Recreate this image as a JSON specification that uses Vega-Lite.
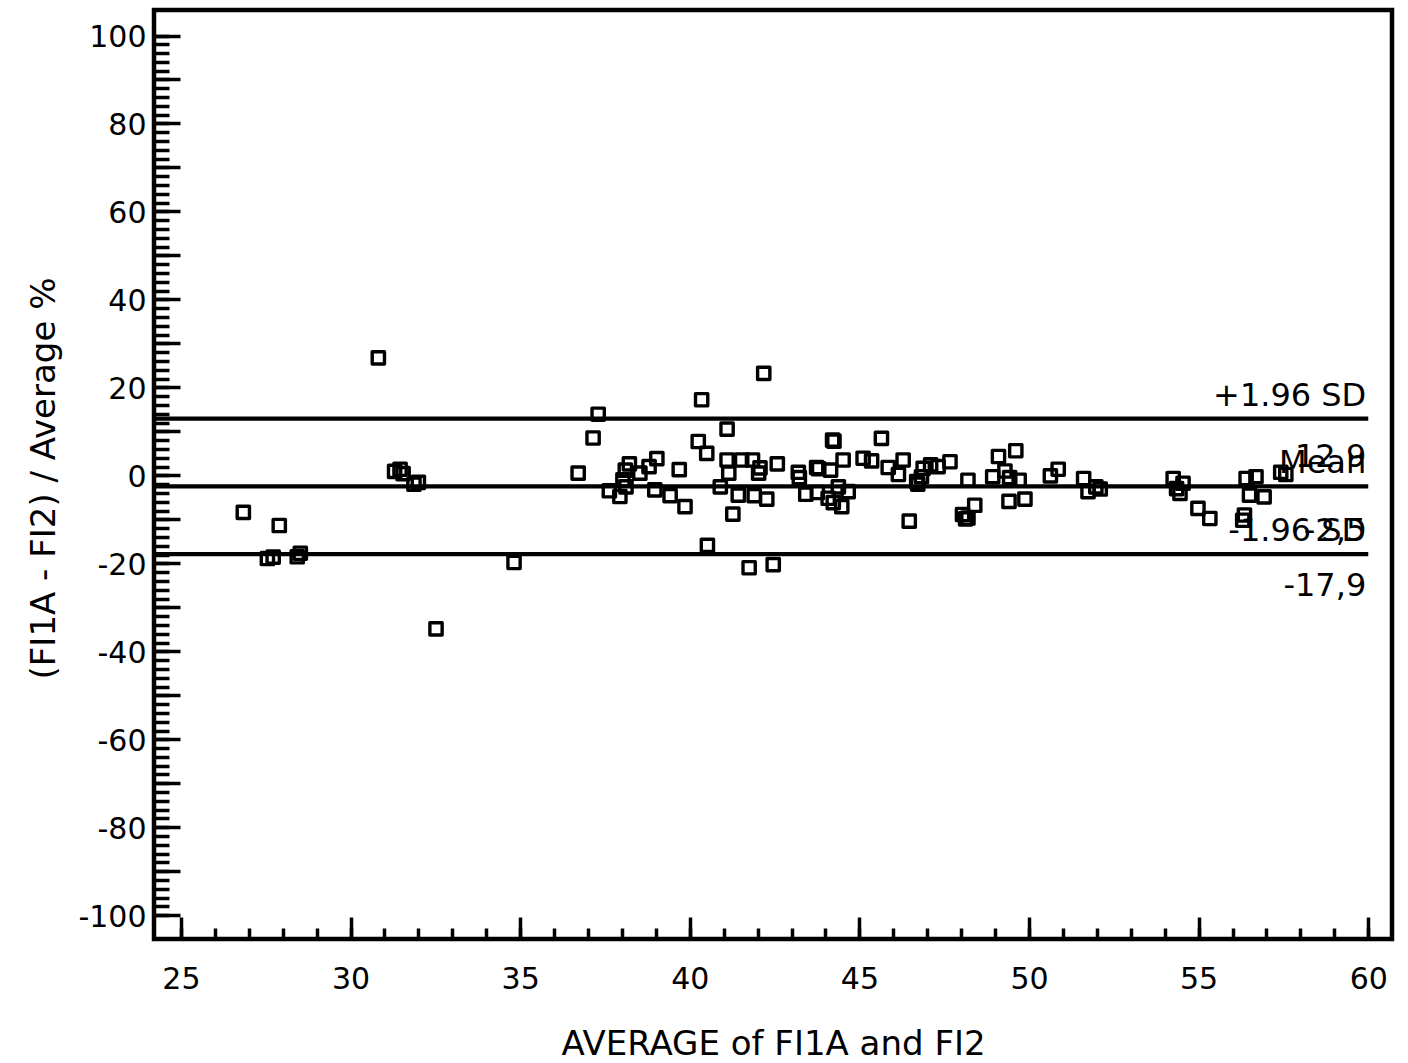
{
  "$schema": "https://vega.github.io/schema/vega-lite/v6.json",
  "width": 1238,
  "height": 929,
  "autosize": {"type": "none"},
  "padding": {"left": 154, "top": 10, "right": 16, "bottom": 124},
  "background": "white",
  "config": {
    "view": {"stroke": "black", "strokeWidth": 4.5},
    "font": "DejaVu Sans",
    "axis": {"grid": false, "domain": false, "labelColor": "black", "titleColor": "black", "tickColor": "black", "labelFont": "DejaVu Sans", "titleFont": "DejaVu Sans", "titleFontWeight": "normal", "labelFlush": false, "labelOverlap": false}
  },
  "datasets": {
    "points": [
      {"avg":26.84,"diff":-8.4},{"avg":27.9,"diff":-11.4},{"avg":27.55,"diff":-18.9},{"avg":27.72,"diff":-18.6},{"avg":28.43,"diff":-18.5},{"avg":28.52,"diff":-17.7},
      {"avg":30.82,"diff":26.7},{"avg":31.3,"diff":0.9},{"avg":31.46,"diff":1.4},{"avg":31.55,"diff":0.4},{"avg":31.87,"diff":-2.0},{"avg":32.0,"diff":-1.6},
      {"avg":32.52,"diff":-34.9},{"avg":34.82,"diff":-19.8},{"avg":36.71,"diff":0.5},{"avg":37.15,"diff":8.5},{"avg":37.3,"diff":13.9},{"avg":37.63,"diff":-3.5},
      {"avg":37.94,"diff":-4.8},{"avg":38.03,"diff":-1.0},{"avg":38.1,"diff":1.2},{"avg":38.22,"diff":2.6},{"avg":38.12,"diff":-2.6},{"avg":38.53,"diff":0.5},
      {"avg":38.8,"diff":2.0},{"avg":39.03,"diff":3.8},{"avg":38.97,"diff":-3.3},{"avg":39.42,"diff":-4.6},{"avg":39.86,"diff":-7.1},{"avg":39.69,"diff":1.3},
      {"avg":40.25,"diff":7.7},{"avg":40.35,"diff":17.2},{"avg":40.5,"diff":5.0},{"avg":40.52,"diff":-15.9},{"avg":41.1,"diff":10.5},{"avg":41.1,"diff":3.5},
      {"avg":41.15,"diff":0.5},{"avg":40.9,"diff":-2.6},{"avg":41.43,"diff":-4.5},{"avg":41.27,"diff":-8.8},{"avg":41.53,"diff":3.5},{"avg":41.85,"diff":3.5},
      {"avg":42.07,"diff":1.7},{"avg":42.03,"diff":0.5},{"avg":41.9,"diff":-4.6},{"avg":42.27,"diff":-5.4},{"avg":42.18,"diff":23.2},{"avg":41.75,"diff":-21.0},
      {"avg":42.46,"diff":-20.3},{"avg":42.58,"diff":2.6},{"avg":43.2,"diff":0.7},{"avg":43.23,"diff":-0.5},{"avg":43.74,"diff":1.8},{"avg":43.8,"diff":1.5},
      {"avg":44.15,"diff":1.2},{"avg":44.52,"diff":3.5},{"avg":43.42,"diff":-4.3},{"avg":43.76,"diff":-3.9},{"avg":44.08,"diff":-5.2},{"avg":44.23,"diff":-6.2},
      {"avg":44.48,"diff":-7.1},{"avg":44.67,"diff":-3.7},{"avg":44.38,"diff":-2.6},{"avg":44.21,"diff":8.0},{"avg":44.25,"diff":7.8},{"avg":45.65,"diff":8.4},
      {"avg":45.11,"diff":3.9},{"avg":45.36,"diff":3.3},{"avg":45.85,"diff":1.8},{"avg":46.29,"diff":3.5},{"avg":46.15,"diff":0.2},{"avg":46.69,"diff":-1.4},
      {"avg":46.72,"diff":-2.0},{"avg":46.83,"diff":-0.3},{"avg":46.88,"diff":1.6},{"avg":47.1,"diff":2.4},{"avg":47.32,"diff":2.0},{"avg":47.67,"diff":3.1},
      {"avg":46.47,"diff":-10.4},{"avg":48.04,"diff":-8.9},{"avg":48.13,"diff":-9.9},{"avg":48.2,"diff":-9.7},{"avg":48.4,"diff":-6.8},{"avg":48.2,"diff":-1.1},
      {"avg":48.93,"diff":-0.3},{"avg":49.1,"diff":4.3},{"avg":49.61,"diff":5.6},{"avg":49.29,"diff":1.0},{"avg":49.43,"diff":-0.5},{"avg":49.71,"diff":-1.1},
      {"avg":49.41,"diff":-5.9},{"avg":49.88,"diff":-5.4},{"avg":50.63,"diff":-0.1},{"avg":50.86,"diff":1.4},{"avg":51.61,"diff":-0.7},{"avg":51.74,"diff":-3.7},
      {"avg":51.97,"diff":-2.6},{"avg":52.1,"diff":-3.1},{"avg":54.25,"diff":-0.7},{"avg":54.35,"diff":-3.0},{"avg":54.45,"diff":-4.1},{"avg":54.54,"diff":-1.8},
      {"avg":54.98,"diff":-7.5},{"avg":55.33,"diff":-9.8},{"avg":56.3,"diff":-10.2},{"avg":56.35,"diff":-9.0},{"avg":56.4,"diff":-0.7},{"avg":56.69,"diff":-0.3},
      {"avg":56.5,"diff":-4.5},{"avg":56.93,"diff":-4.9},{"avg":57.42,"diff":0.7},{"avg":57.57,"diff":0.2}
    ],
    "lines": [
      {"key": "up", "value": 12.9, "name": "+1.96 SD", "num": "12,9"},
      {"key": "mean", "value": -2.5, "name": "Mean", "num": "-2,5"},
      {"key": "low", "value": -17.9, "name": "-1.96 SD", "num": "-17,9"}
    ]
  },
  "resolve": {"axis": {"x": "independent", "y": "independent"}},
  "layer": [
    {
      "data": {"name": "points"},
      "mark": {"type": "point", "shape": "square", "filled": false, "size": 150, "stroke": "black", "strokeWidth": 3.4, "strokeJoin": "round", "opacity": 1},
      "encoding": {
        "x": {"field": "avg", "type": "quantitative", "scale": {"domain": [24.207, 60.7], "nice": false, "zero": false},
          "axis": {"orient": "bottom", "values": [25, 30, 35, 40, 45, 50, 55, 60], "ticks": false, "labelPadding": 25, "labelFontSize": 30,
            "title": "AVERAGE of FI1A and FI2", "titleFontSize": 34, "titleY": 115, "titleBaseline": "alphabetic"}},
        "y": {"field": "diff", "type": "quantitative", "scale": {"domain": [-105.4, 105.8], "nice": false, "zero": false},
          "axis": {"orient": "left", "values": [-100, -80, -60, -40, -20, 0, 20, 40, 60, 80, 100], "ticks": false, "labelPadding": 8, "labelFontSize": 30, "labelOffset": 2,
            "labelExpr": "replace(datum.label, '\u2212', '-')",
            "title": "(FI1A - FI2) / Average %", "titleFontSize": 34, "titleAngle": 270, "titleX": -100, "titleY": 468, "titleAlign": "center", "titleBaseline": "alphabetic"}}
      }
    },
    {
      "data": {"name": "lines"},
      "mark": {"type": "rule", "color": "black", "strokeWidth": 4.2},
      "encoding": {
        "x": {"datum": 24.207, "type": "quantitative",
          "axis": {"orient": "bottom", "values": [25, 30, 35, 40, 45, 50, 55, 60], "labels": false, "ticks": true, "tickSize": -22, "tickWidth": 3.5, "title": null}},
        "x2": {"datum": 60},
        "y": {"field": "value", "type": "quantitative",
          "axis": {"orient": "left", "values": [-100, -90, -80, -70, -60, -50, -40, -30, -20, -10, 0, 10, 20, 30, 40, 50, 60, 70, 80, 90, 100], "labels": false, "ticks": true, "tickSize": -26, "tickWidth": 3.5, "title": null}}
      }
    },
    {
      "data": {"name": "lines"},
      "mark": {"type": "text", "align": "right", "baseline": "alphabetic", "dx": -2, "dy": -13, "fontSize": 32, "color": "black"},
      "encoding": {
        "x": {"datum": 60, "type": "quantitative",
          "axis": {"orient": "bottom", "values": [25,26,27,28,29,30,31,32,33,34,35,36,37,38,39,40,41,42,43,44,45,46,47,48,49,50,51,52,53,54,55,56,57,58,59,60], "labels": false, "ticks": true, "tickSize": -11, "tickWidth": 3.5, "title": null}},
        "y": {"field": "value", "type": "quantitative",
          "axis": {"orient": "left", "values": [-100,-98,-96,-94,-92,-90,-88,-86,-84,-82,-80,-78,-76,-74,-72,-70,-68,-66,-64,-62,-60,-58,-56,-54,-52,-50,-48,-46,-44,-42,-40,-38,-36,-34,-32,-30,-28,-26,-24,-22,-20,-18,-16,-14,-12,-10,-8,-6,-4,-2,0,2,4,6,8,10,12,14,16,18,20,22,24,26,28,30,32,34,36,38,40,42,44,46,48,50,52,54,56,58,60,62,64,66,68,70,72,74,76,78,80,82,84,86,88,90,92,94,96,98,100], "labels": false, "ticks": true, "tickSize": -15, "tickWidth": 3.5, "title": null}},
        "text": {"field": "name"}
      }
    },
    {
      "data": {"name": "lines"},
      "transform": [{"filter": "datum.key === 'up'"}],
      "mark": {"type": "text", "align": "right", "baseline": "alphabetic", "dx": -2, "dy": 48, "fontSize": 32, "color": "black"},
      "encoding": {
        "x": {"datum": 60, "type": "quantitative", "axis": null},
        "y": {"field": "value", "type": "quantitative", "axis": null},
        "text": {"field": "num"}
      }
    },
    {
      "data": {"name": "lines"},
      "transform": [{"filter": "datum.key === 'mean'"}],
      "mark": {"type": "text", "align": "right", "baseline": "alphabetic", "dx": -2, "dy": 55, "fontSize": 32, "color": "black"},
      "encoding": {
        "x": {"datum": 60, "type": "quantitative", "axis": null},
        "y": {"field": "value", "type": "quantitative", "axis": null},
        "text": {"field": "num"}
      }
    },
    {
      "data": {"name": "lines"},
      "transform": [{"filter": "datum.key === 'low'"}],
      "mark": {"type": "text", "align": "right", "baseline": "alphabetic", "dx": -2, "dy": 42, "fontSize": 32, "color": "black"},
      "encoding": {
        "x": {"datum": 60, "type": "quantitative", "axis": null},
        "y": {"field": "value", "type": "quantitative", "axis": null},
        "text": {"field": "num"}
      }
    }
  ]
}
